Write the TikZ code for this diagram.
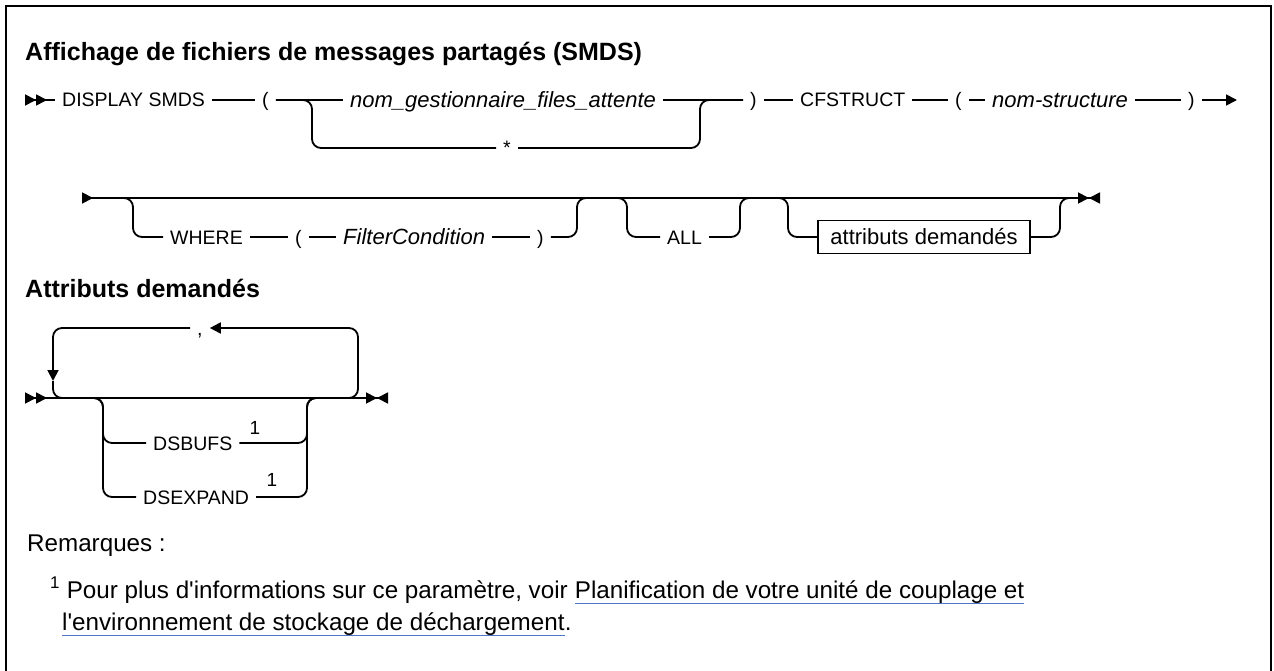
\documentclass[tikz,border=0pt]{standalone}
\usepackage{fontspec}
\setmainfont{Liberation Sans}
\usepackage{tikz}
\usetikzlibrary{arrows.meta, positioning, calc}
\definecolor{linkblue}{RGB}{78,118,200}
\newcommand{\kwfont}{\fontsize{19.5}{23}\selectfont}
\newcommand{\varfont}{\fontsize{22}{26}\selectfont\itshape}
\newcommand{\lcfont}{\fontsize{22}{26}\selectfont}
\newcommand{\supfont}{\fontsize{19}{22}\selectfont}
\newcommand{\headfont}{\fontsize{25}{30}\selectfont\bfseries}
\newcommand{\notefont}{\fontsize{24.2}{29}\selectfont}
\tikzset{
  tri/.tip={Triangle[length=11pt,width=11pt]},
  irt/.tip={Triangle[length=11pt,width=11pt,reversed]}
}

\begin{document}
\begin{tikzpicture}[
  x=1pt, y=-1pt,
  rail/.style={line width=1.8pt, rounded corners=9pt},
  kw/.style={font=\kwfont, anchor=west, inner xsep=7pt, inner ysep=0pt,
             text height=14pt, text depth=0pt},
  varkw/.style={kw, font=\varfont, text height=15.5pt},
  attrbox/.style={draw, line width=1.5pt, font=\lcfont, minimum width=212pt,
                  minimum height=33pt, inner sep=0pt},
  supone/.style={font=\supfont, inner sep=0pt},
  heading/.style={font=\headfont, anchor=base west, inner sep=0pt},
  remark/.style={font=\notefont, anchor=base west, inner sep=0pt, text depth=5pt},
  linkline/.style={draw=linkblue, line width=1.2pt}
]
  \useasboundingbox (0,0) rectangle (1274,671);
  % frame, open at the bottom
  \draw[line width=2.8pt] (6,671) |- (1271,6) -- (1271,671);

  % Titles
  \node[heading] (title) at (25,61) {Affichage de fichiers de messages partagés (SMDS)};
  \node[heading] (attrtitle) at (25,297) {Attributs demandés};

  % Row 1 -- DISPLAY SMDS ... CFSTRUCT
  \coordinate (r1s) at (25,100);
  \coordinate (r1e) at (1237,100);
  \coordinate (s1) at (312,100);
  \coordinate (j1) at (700,100);
  \node[kw] (disp) at (55,100) {DISPLAY SMDS};
  \node[kw] (lpA) at (255,100) {(};
  \node[varkw] (qmgr) at (343,100) {nom\_gestionnaire\_files\_attente\hspace{20pt}};
  \node[kw, anchor=center] (star) at (507,148) {*};
  \node[kw] (rpA) at (743,100) {)};
  \node[kw] (cfs) at (793,100) {CFSTRUCT};
  \node[kw] (lpB) at (948,100) {(};
  \node[varkw] (strn) at (985,100) {nom-structure};
  \node[kw] (rpB) at (1181,100) {)};

  \draw[rail, {irt[]irt[]}-] (r1s) -- (disp);
  \draw[rail] (disp) -- (lpA) (lpA) -- (qmgr) (qmgr) -- (rpA);
  \draw[rail] (lpA) -- (s1) |- (star);
  \draw[rail] (star) -| (j1) -- (rpA);
  \draw[rail] (rpA) -- (cfs) (cfs) -- (lpB) (lpB) -- (strn) (strn) -- (rpB);
  \draw[rail, -{tri[]}] (rpB) -- (r1e);

  % Row 2 -- WHERE / ALL / attributs demandes
  \coordinate (r2s) at (82,198);
  \coordinate (r2b) at (110,198);
  \coordinate (r2m) at (1072,198);
  \coordinate (r2e) at (1100,198);
  \coordinate (s2) at (133,198);
  \coordinate (j2) at (577,198);
  \coordinate (s3) at (627,198);
  \coordinate (j3) at (740,198);
  \coordinate (s4) at (788,198);
  \coordinate (j4) at (1060,198);
  \node[kw] (where) at (163,237) {WHERE};
  \node[kw] (lpC) at (288,237) {(};
  \node[varkw] (filt) at (336,237) {FilterCondition};
  \node[kw] (rpC) at (530,237) {)};
  \node[kw] (all) at (660,237) {ALL};
  \node[attrbox] (attrs) at (924,237) {attributs demandés};

  \draw[rail, {irt[]}-{tri[]irt[]}] (r2s) -- (r2e);
  \draw[rail] (r2b) -- (s2) |- (where);
  \draw[rail] (where) -- (lpC) (lpC) -- (filt) (filt) -- (rpC);
  \draw[rail] (rpC) -| (j2) -- (s3) |- (all);
  \draw[rail] (all) -| (j3) -- (s4) |- (attrs);
  \draw[rail] (attrs) -| (j4) -- (r2m);

  % Row 3 -- repeat loop with DSBUFS / DSEXPAND
  \coordinate (r3s) at (25,398);
  \coordinate (r3b) at (70,398);
  \coordinate (r3e) at (388,398);
  \coordinate (lr) at (358,398);
  \coordinate (ad) at (53,381);
  \coordinate (s5) at (103,398);
  \coordinate (j5) at (307,398);
  \node[kw] (comma) at (190,328) {,};
  \node[kw] (dsbufs) at (146,443) {DSBUFS};
  \node[kw] (dsexp) at (136,497) {DSEXPAND};
  \node[supone] (supA) at (255,428) {1};
  \node[supone] (supB) at (272,480) {1};

  \draw[rail, {irt[]irt[]}-{tri[]irt[]}] (r3s) -- (r3e);
  \draw[rail, -{tri[]}] (r3b) -- (lr) |- (comma);
  \draw[rail, -{tri[]}] (comma) -| (ad);
  \draw[rail] (ad) |- (r3b);
  \draw[rail] (r3b) -- (s5) |- (dsbufs);
  \draw[rail] (r3b) -- (s5) |- (dsexp);
  \draw[rail] (dsbufs) -| (j5) -- (lr);
  \draw[rail] (dsexp) -| (j5) -- (lr);

  % Notes
  \node[remark] (rem) at (27,551) {Remarques~:};
  \node[remark] (note) at (50,598) {\textsuperscript{1} Pour plus d\textquotesingle informations sur ce paramètre, voir};
  \node[remark] (linkA) at ([xshift=6.7pt]note.base east) {Planification de votre unité de couplage et};
  \node[remark] (linkB) at (62,630) {l\textquotesingle environnement de stockage de déchargement};
  \node[remark] (dot) at (linkB.base east) {.};
  \draw[linkline] (linkA.south west) -- (linkA.south east);
  \draw[linkline] (linkB.south west) -- (linkB.south east);
\end{tikzpicture}
\end{document}
